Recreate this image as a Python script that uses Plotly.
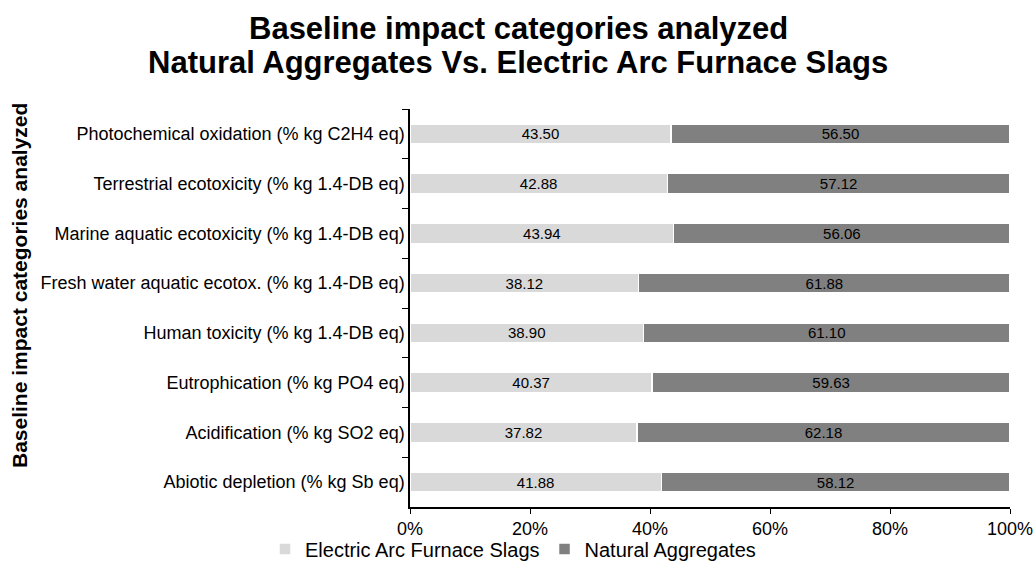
import plotly.graph_objects as go

categories = [
    "Photochemical oxidation (% kg C2H4 eq)",
    "Terrestrial ecotoxicity (% kg 1.4-DB eq)",
    "Marine aquatic ecotoxicity (% kg 1.4-DB eq)",
    "Fresh water aquatic ecotox. (% kg 1.4-DB eq)",
    "Human toxicity (% kg 1.4-DB eq)",
    "Eutrophication (% kg PO4 eq)",
    "Acidification (% kg SO2 eq)",
    "Abiotic depletion (% kg Sb eq)",
]
eaf_slags = [43.50, 42.88, 43.94, 38.12, 38.90, 40.37, 37.82, 41.88]
natural_aggregates = [56.50, 57.12, 56.06, 61.88, 61.10, 59.63, 62.18, 58.12]
x_tickvals = [0, 20, 40, 60, 80, 100]
x_ticktext = ["0%", "20%", "40%", "60%", "80%", "100%"]
title_lines = ["Baseline impact categories analyzed",
               "Natural Aggregates Vs. Electric Arc Furnace Slags"]
y_title = "Baseline impact categories analyzed"

font = "Liberation Sans, Arial, sans-serif"

# body margin removed by post_script, so figure coordinates = screen coordinates
W, H = 1033, 579
L, R, T, B = 410, 23, 109, 579 - 507
plot_w = W - L - R
plot_h = H - T - B


def py(screen_y):
    return 1 - (screen_y - T) / plot_h


def px(screen_x):
    return (screen_x - L) / plot_w


fig = go.Figure()
for name, vals, col in [("Electric Arc Furnace Slags", eaf_slags, "#d9d9d9"),
                        ("Natural Aggregates", natural_aggregates, "#808080")]:
    fig.add_trace(go.Bar(
        y=categories, x=vals, orientation="h", name=name,
        marker=dict(color=col, line=dict(color="white", width=1.5)),
        text=[f"{v:.2f}" for v in vals], textposition="inside",
        insidetextanchor="middle", constraintext="none",
        textfont=dict(color="black", size=15, family=font),
        hoverinfo="skip",
    ))

annotations = []
for line, sy in zip(title_lines, [28, 62]):
    annotations.append(dict(
        text=f"<b>{line}</b>", xref="paper", yref="paper",
        x=px(518), y=py(sy), xanchor="center", yanchor="middle",
        showarrow=False, font=dict(size=31, family=font, color="black"),
    ))
annotations.append(dict(
    text=f"<b>{y_title}</b>", xref="paper", yref="paper", textangle=-90,
    x=px(19), y=py(286), xanchor="center", yanchor="middle",
    showarrow=False, font=dict(size=21, family=font, color="black"),
))

fig.update_layout(
    barmode="stack", bargap=0.6,
    width=W, height=H,
    paper_bgcolor="white", plot_bgcolor="white",
    margin=dict(l=L, r=R, t=T, b=B, autoexpand=False),
    font=dict(family=font, size=18, color="black"),
    legend=dict(orientation="h", x=px(513), xanchor="center",
                y=py(549), yanchor="middle", bgcolor="rgba(0,0,0,0)",
                font=dict(size=20, family=font), itemwidth=30, traceorder="normal"),
    annotations=annotations,
)
fig.update_xaxes(
    range=[0, 100], tickvals=x_tickvals, ticktext=x_ticktext, automargin=False,
    showline=True, linecolor="black", linewidth=1.5,
    ticks="outside", ticklen=5, tickcolor="black", ticklabeloverflow="allow",
    showgrid=False, zeroline=False, tickfont=dict(size=18),
)
fig.update_yaxes(
    autorange="reversed", tickson="boundaries", automargin=False,
    showline=True, linecolor="black", linewidth=1.5,
    ticks="outside", ticklen=6, tickcolor="black",
    showgrid=False, tickfont=dict(size=18),
)

fig.write_html(
    "out.html",
    config={"displayModeBar": False},
    post_script="document.body.style.margin='0';document.body.style.overflow='hidden';",
)
